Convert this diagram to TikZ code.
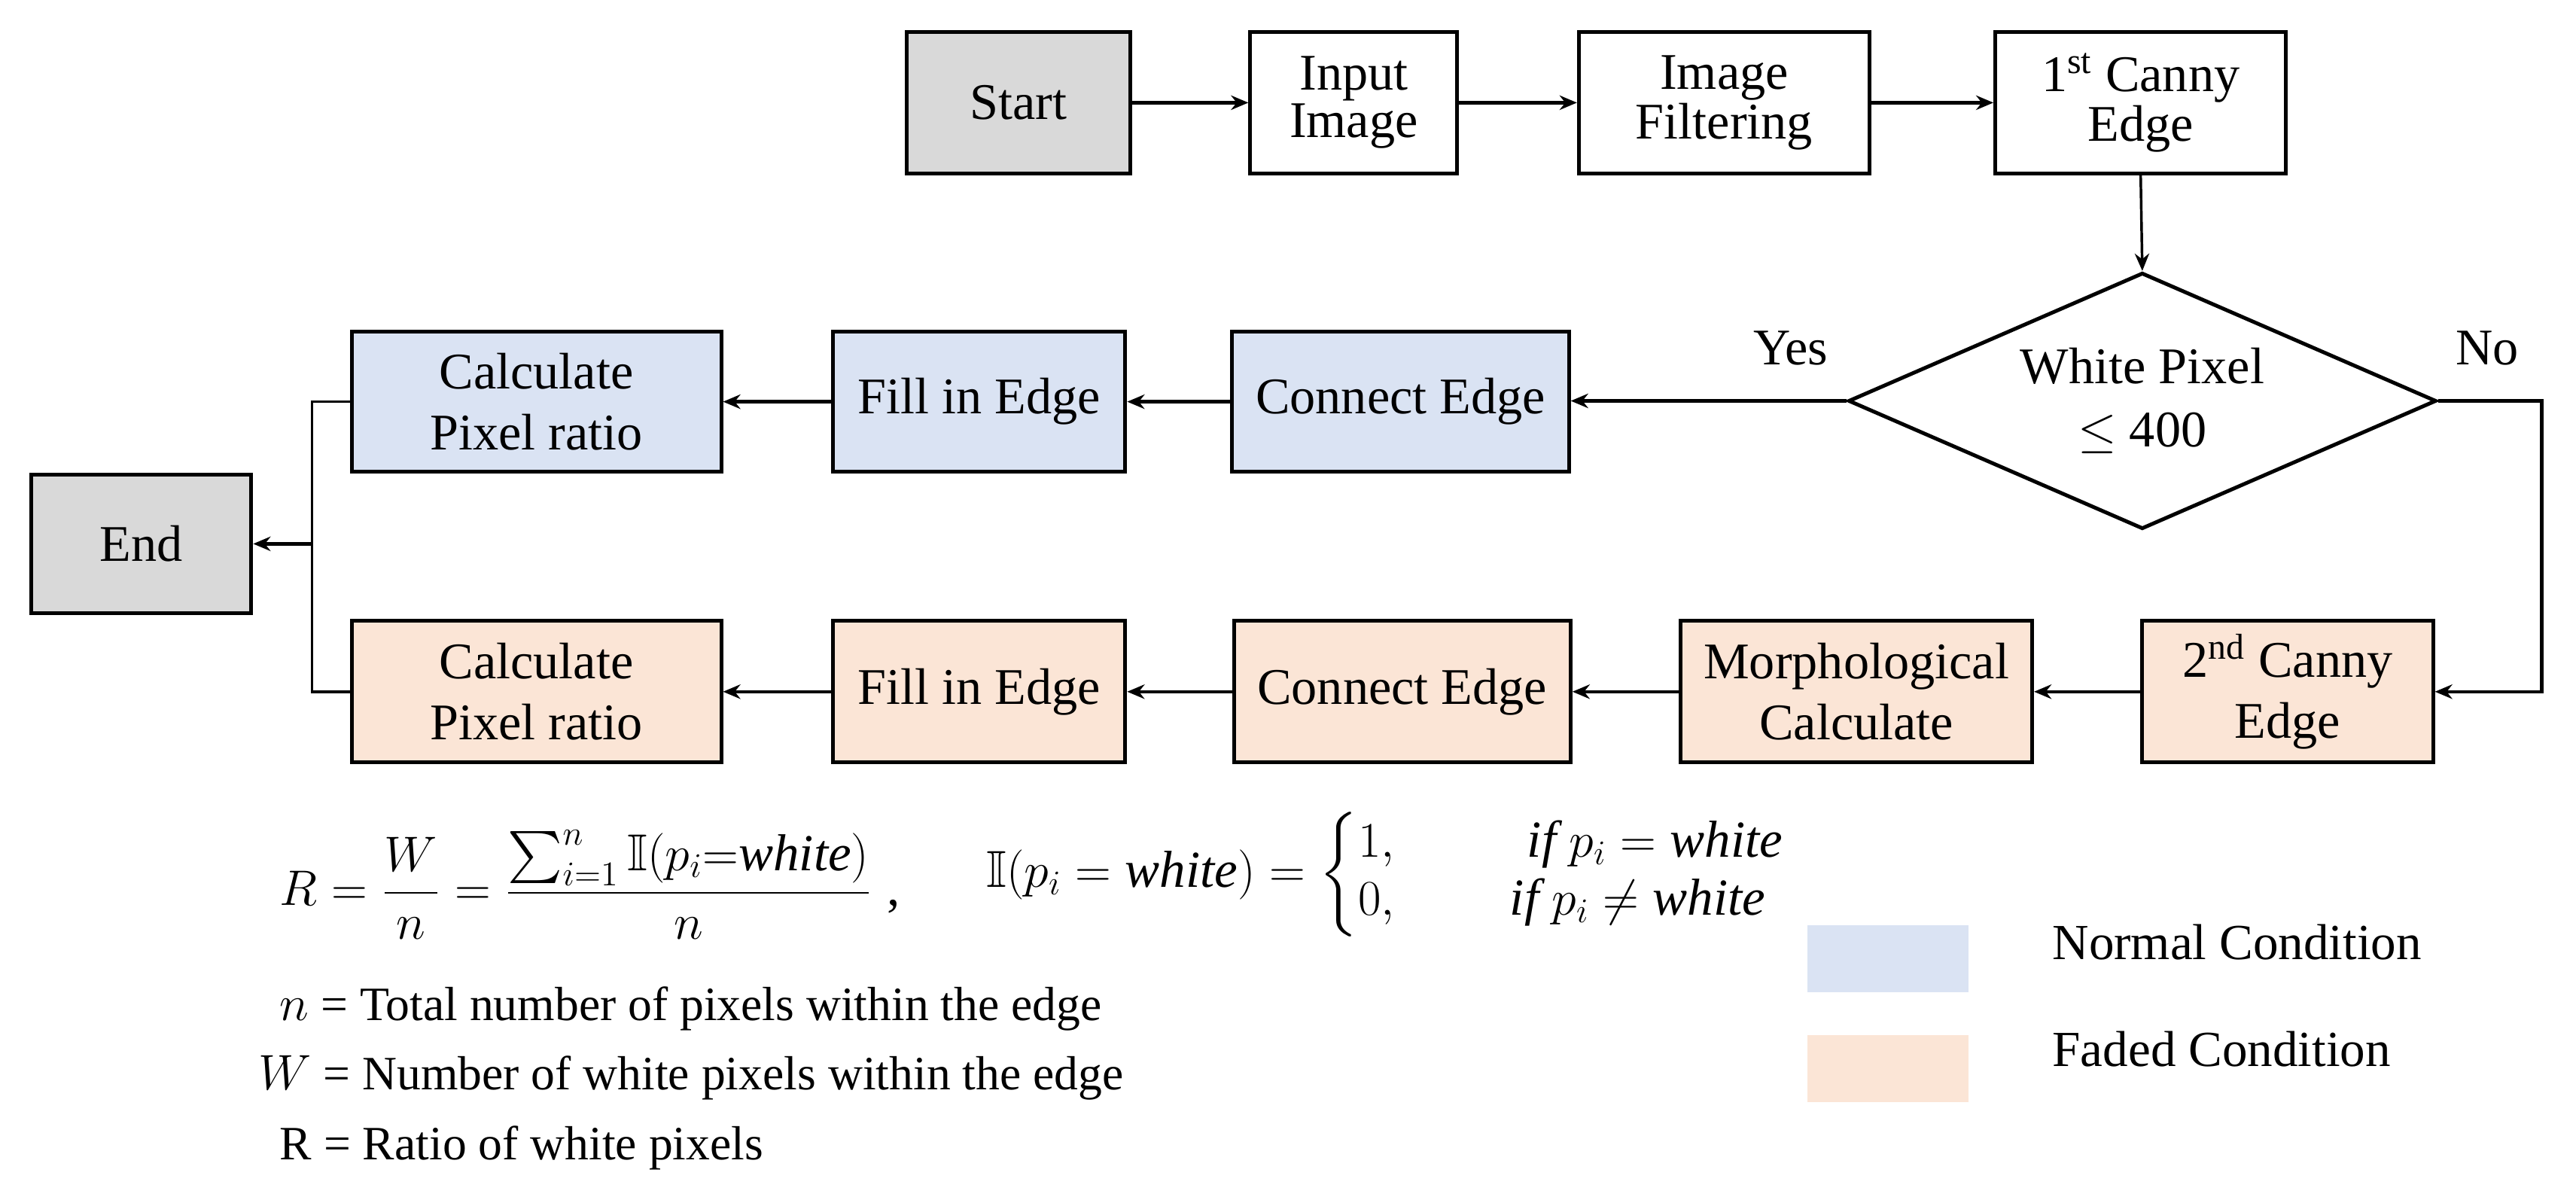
\documentclass[tikz,border=0pt]{standalone}
\usepackage{amsmath,amssymb}
\usepackage{fontspec}
\setmainfont{Liberation Serif}
\usetikzlibrary{shapes.geometric,arrows.meta}
\definecolor{bluefill}{HTML}{DAE3F3}
\definecolor{orangefill}{HTML}{FBE5D6}
\definecolor{grayfill}{HTML}{D9D9D9}
\begin{document}
\begin{tikzpicture}[x=0.02cm,y=-0.02cm,
  box/.style={draw, line width=1.3pt, inner sep=0pt, align=center,
    font=\fontsize{17.8}{21}\selectfont},
  toprow/.style={box, minimum height=1.72cm, font=\fontsize{17.8}{14.5}\selectfont},
  midrow/.style={box, fill=bluefill, minimum height=1.70cm},
  botrow/.style={box, fill=orangefill, minimum height=1.72cm},
  decision/.style={diamond, draw, line width=1.3pt, inner sep=0pt, aspect=2.3,
    minimum width=7.16cm, minimum height=3.12cm, align=center,
    font=\fontsize{17.8}{22}\selectfont},
  arr/.style={line width=1.2pt, -{Stealth[length=6pt,width=5pt]}},
  thinarr/.style={line width=0.9pt, -{Stealth[length=6pt,width=5pt]}},
  thinline/.style={line width=0.9pt},
  lbl/.style={inner sep=0pt, font=\fontsize{17.8}{21}\selectfont},
  legtext/.style={inner sep=0pt, anchor=mid west, font=\fontsize{16.6}{20}\selectfont},
  legbox/.style={draw=none, inner sep=0pt, minimum width=1.96cm, minimum height=0.82cm},
  mathtext/.style={inner sep=0pt, anchor=base west, font=\fontsize{18}{20}\selectfont},
]
\useasboundingbox (0,0) rectangle (1568,730);

% top row
\node[toprow, fill=grayfill, minimum width=2.72cm] (start) at (620,62.5) {Start};
\node[toprow, minimum width=2.52cm] (input) at (824,62.5) {Input\\Image};
\node[toprow, minimum width=3.54cm] (filter) at (1049.5,62.5) {Image\\Filtering};
\node[toprow, minimum width=3.54cm] (canny1) at (1303,62.5) {1\textsuperscript{st} Canny\\Edge};

% decision
\node[decision] (dec) at (1304,244) {White Pixel\\$\leq$ 400};
\node[lbl] (yes) at (1090,212) {Yes};
\node[lbl] (no) at (1514,212) {No};

% middle row (normal)
\node[midrow, minimum width=4.10cm] (bconn) at (852.5,244.5) {Connect Edge};
\node[midrow, minimum width=3.56cm] (bfill) at (596,244.5) {Fill in Edge};
\node[midrow, minimum width=4.50cm] (bcalc) at (326.5,244.5) {Calculate\\Pixel ratio};

% bottom row (faded)
\node[botrow, minimum width=3.54cm] (ocanny) at (1392.5,421) {2\textsuperscript{nd} Canny\\Edge};
\node[botrow, minimum width=4.28cm] (omorph) at (1130,421) {Morphological\\Calculate};
\node[botrow, minimum width=4.10cm] (oconn) at (853.5,421) {Connect Edge};
\node[botrow, minimum width=3.56cm] (ofill) at (596,421) {Fill in Edge};
\node[botrow, minimum width=4.50cm] (ocalc) at (326.5,421) {Calculate\\Pixel ratio};

% end
\node[box, fill=grayfill, minimum width=2.68cm, minimum height=1.68cm] (end) at (86,331) {End};

% connectors
\draw[arr] (start) -- (input);
\draw[arr] (input) -- (filter);
\draw[arr] (filter) -- (canny1);
\draw[thinarr] (canny1.south) -- (dec.north);
\draw[arr] (dec.west) -- (bconn.east |- dec.west);
\draw[arr] (bconn) -- (bfill);
\draw[arr] (bfill) -- (bcalc);
\coordinate (noc) at (1547,244);
\draw[arr] (dec.east) -- (noc) |- (ocanny.east);
\draw[arr] (ocanny) -- (omorph);
\draw[arr] (omorph) -- (oconn);
\draw[arr] (oconn) -- (ofill);
\draw[arr] (ofill) -- (ocalc);
\coordinate (bx) at (190,331);
\draw[thinline] (bcalc.west) -| (bx) |- (ocalc.west);
\draw[arr] (bx) -- (end.east);

% formula
\node[mathtext] (formula) at (170,551)
  {$\displaystyle R=\frac{W}{n}=\frac{\sum\nolimits_{i=1}^{n}\mathbb{I}(p_i{=}\mathit{white})}{n}$\;,};
\node[mathtext] (indicator) at (600,540)
  {$\displaystyle \mathbb{I}(p_i=\mathit{white})=\left\{\begin{array}{@{}l@{\hspace{40pt}}l@{}}
    1, & \hspace{6pt}\mathit{if}\ p_i=\mathit{white}\\
    0, & \mathit{if}\ p_i\neq\mathit{white}\end{array}\right.$};

\node[legtext] (defn) at (170,617) {$n$ = Total number of pixels within the edge};
\node[legtext] (defw) at (157,659) {$W$ = Number of white pixels within the edge};
\node[legtext] (defr) at (170,702) {R = Ratio of white pixels};

% legend
\node[legbox, fill=bluefill] (legb) at (1149,583.5) {};
\node[legbox, fill=orangefill] (lego) at (1149,650.5) {};
\node[legtext, font=\fontsize{17.5}{21}\selectfont] (legbt) at (1249,580) {Normal Condition};
\node[legtext, font=\fontsize{17.5}{21}\selectfont] (legot) at (1249,645) {Faded Condition};
\end{tikzpicture}
\end{document}
